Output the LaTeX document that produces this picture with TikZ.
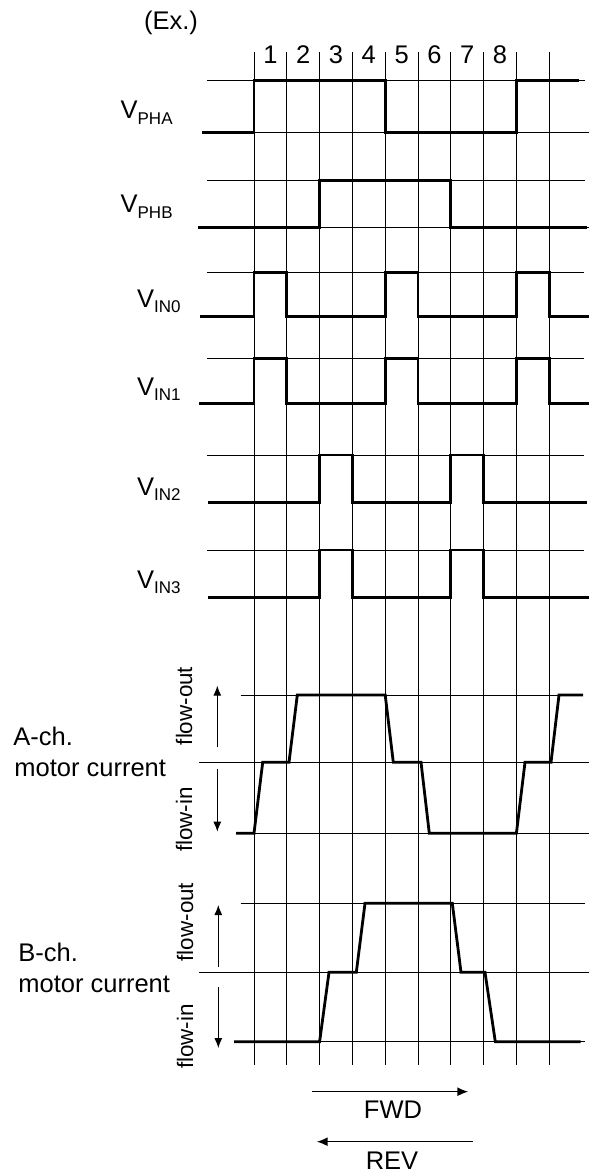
\documentclass[tikz,border=0pt]{standalone}
\usepackage{fontspec}
\setmainfont{Liberation Sans}
\usetikzlibrary{arrows.meta}
\newcommand\labelsize{\fontsize{12.75}{15}\selectfont}
\newcommand\flowsize{\fontsize{11.2}{13}\selectfont}
\newcommand\vsig[1]{V\raisebox{-2.8pt}{\fontsize{8.5}{10}\selectfont #1}}
\tikzset{
  grid/.style={line width=0.5pt},
  wave/.style={line width=1.4pt, line join=miter},
  lbl/.style={font=\labelsize, inner sep=0pt},
  flowlbl/.style={font=\flowsize, inner sep=0pt, rotate=90},
  flowarr/.style={line width=0.5pt, -{Latex[length=5pt,width=4pt]}},
  dirarr/.style={line width=0.75pt, -{Latex[length=5.5pt,width=4.5pt]}}
}
\begin{document}
\begin{tikzpicture}[x=0.5pt, y=-0.5pt]
\useasboundingbox (0,0) rectangle (589,1176);
\node[lbl] (ex) at (171,23) {(Ex.)};
\foreach \i in {0,...,9}
    {\draw[grid] ({254+32.8*\i},52) -- ({254+32.8*\i},1065);};
\foreach \n in {1,...,8}
    {\node[lbl] (num\n) at ({237.6+32.8*\n},55) {\n};};
\draw[grid] (207,80.7) -- (585,80.7);
\draw[grid] (202,132.3) -- (589,132.3);
\draw[wave] (202,132.3) -- (254,132.3) -- (254,80.7) -- (385.2,80.7) -- (385.2,132.3) -- (516.4,132.3) -- (516.4,80.7) -- (579,80.7);
\node[lbl, anchor=base east] (pha) at (173,119) {\vsig{PHA}};
\draw[grid] (207,180.3) -- (585,180.3);
\draw[grid] (198,227.7) -- (589,227.7);
\draw[wave] (198,227.7) -- (319.6,227.7) -- (319.6,180.3) -- (450.8,180.3) -- (450.8,227.7) -- (587,227.7);
\node[lbl, anchor=base east] (phb) at (173,213) {\vsig{PHB}};
\draw[grid] (207,272.3) -- (584,272.3);
\draw[wave] (200,316.3) -- (254,316.3) -- (254,272.3) -- (286.8,272.3) -- (286.8,316.3) -- (385.2,316.3) -- (385.2,272.3) -- (418,272.3) -- (418,316.3) -- (516.4,316.3) -- (516.4,272.3) -- (549.2,272.3) -- (549.2,316.3) -- (589,316.3);
\node[lbl, anchor=base east] (in0) at (181,307) {\vsig{IN0}};
\draw[grid] (207,358.3) -- (584,358.3);
\draw[wave] (199,403.7) -- (254,403.7) -- (254,358.3) -- (286.8,358.3) -- (286.8,403.7) -- (385.2,403.7) -- (385.2,358.3) -- (418,358.3) -- (418,403.7) -- (516.4,403.7) -- (516.4,358.3) -- (549.2,358.3) -- (549.2,403.7) -- (589,403.7);
\node[lbl, anchor=base east] (in1) at (181,395) {\vsig{IN1}};
\draw[grid] (207,455) -- (584,455);
\draw[wave] (208,502.3) -- (319.6,502.3) -- (319.6,455) -- (352.4,455) -- (352.4,502.3) -- (450.8,502.3) -- (450.8,455) -- (483.6,455) -- (483.6,502.3) -- (587,502.3);
\node[lbl, anchor=base east] (in2) at (181,495) {\vsig{IN2}};
\draw[grid] (207,550) -- (584,550);
\draw[wave] (208,597.3) -- (319.6,597.3) -- (319.6,550) -- (352.4,550) -- (352.4,597.3) -- (450.8,597.3) -- (450.8,550) -- (483.6,550) -- (483.6,597.3) -- (589,597.3);
\node[lbl, anchor=base east] (in3) at (181,588) {\vsig{IN3}};
\draw[grid] (240.7,695) -- (583,695);
\draw[grid] (199,762.3) -- (589,762.3);
\draw[grid] (235.7,833.3) -- (589,833.3);
\draw[wave] (236,833.3) -- (254,833.3) -- (262.7,762.3) -- (289,762.3) -- (297.3,695) -- (385.2,695) -- (393.3,762.3) -- (421,762.3) -- (429.3,833.3) -- (516.4,833.3) -- (525,762.3) -- (551,762.3) -- (559,695) -- (583,695);
\node[lbl, anchor=base west] (acha) at (13,745) {A-ch.};
\node[lbl, anchor=base west] (achb) at (14,776) {motor current};
\node[flowlbl] (aout) at (184,706) {flow-out};
\node[flowlbl] (ain) at (184,819.5) {flow-in};
\coordinate (aup0) at (217.3,747);
\coordinate (aup1) at (217.3,685.7);
\coordinate (adn0) at (217.3,769);
\coordinate (adn1) at (217.3,831.7);
\draw[flowarr] (aup0) -- (aup1);
\draw[flowarr] (adn0) -- (adn1);
\draw[grid] (240.7,903.3) -- (585,903.3);
\draw[grid] (199,972.3) -- (589,972.3);
\draw[grid] (234,1041.7) -- (585,1041.7);
\draw[wave] (234,1041.7) -- (319.6,1041.7) -- (329,972.3) -- (356.3,972.3) -- (365,903.3) -- (452.3,903.3) -- (461,972.3) -- (485,972.3) -- (495.3,1041.7) -- (580.7,1041.7);
\node[lbl, anchor=base west] (bcha) at (18,961) {B-ch.};
\node[lbl, anchor=base west] (bchb) at (18,992) {motor current};
\node[flowlbl] (bout) at (185,922) {flow-out};
\node[flowlbl] (bin) at (185,1036.5) {flow-in};
\coordinate (bup0) at (218.3,966.7);
\coordinate (bup1) at (218.3,905);
\coordinate (bdn0) at (218.3,986.7);
\coordinate (bdn1) at (218.3,1048);
\draw[flowarr] (bup0) -- (bup1);
\draw[flowarr] (bdn0) -- (bdn1);
\coordinate (fwd0) at (312.3,1091.7);
\coordinate (fwd1) at (468.3,1091.7);
\draw[dirarr] (fwd0) -- (fwd1);
\node[lbl] (fwd) at (393,1110) {FWD};
\coordinate (rev0) at (472.7,1141.7);
\coordinate (rev1) at (316.7,1141.7);
\draw[dirarr] (rev0) -- (rev1);
\node[lbl] (rev) at (392,1161) {REV};
\end{tikzpicture}
\end{document}
